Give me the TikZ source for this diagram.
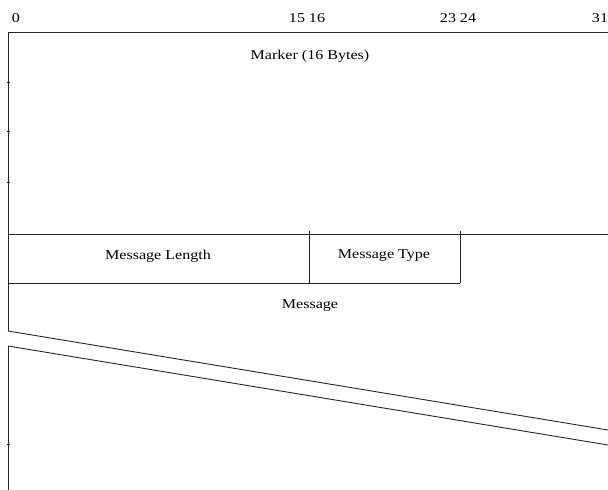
\documentclass[tikz,border=0pt]{standalone}
\usepackage{fontspec}
\usepackage{graphicx}
\setmainfont{Liberation Serif}
\newcommand{\wide}[1]{\scalebox{1.19}[1]{#1}}
\begin{document}
\begin{tikzpicture}[x=1pt,y=-1pt,
  lbl/.style={inner sep=0pt,font=\fontsize{13.5}{16}\selectfont},
  ln/.style={line width=0.9pt,black!85}]
\useasboundingbox (0,0) rectangle (608,490);
% bit labels
\node[lbl] (b0) at (16,18) {\wide{0}};
\node[lbl] (b15) at (297,18) {\wide{15}};
\node[lbl] (b16) at (317,18) {\wide{16}};
\node[lbl] (b23) at (448,18) {\wide{23}};
\node[lbl] (b24) at (468,18) {\wide{24}};
\node[lbl] (b31) at (600,18) {\wide{31}};
% coordinates
\coordinate (tl) at (8,32);
\coordinate (tr) at (608,32);
\coordinate (ml) at (8,234);
\coordinate (mr) at (608,234);
\coordinate (d1t) at (309,231);
\coordinate (d1b) at (309,283);
\coordinate (d2t) at (460,231);
\coordinate (d2b) at (460,283);
\coordinate (bl) at (8,283);
\coordinate (ba) at (8,331);
\coordinate (bb) at (8,346);
\coordinate (bra) at (608,430);
\coordinate (brb) at (608,445);
\coordinate (bot) at (8,490);
% lines
\draw[ln] (tl) -- (tr);
\draw[ln] (tl) -- (ba);
\draw[ln] (bb) -- (bot);
\draw[ln] (ml) -- (mr);
\draw[ln] (bl) -- (d2b);
\draw[ln] (d1t) -- (d1b);
\draw[ln] (d2t) -- (d2b);
\draw[ln] (ba) -- (bra);
\draw[ln] (bb) -- (brb);
% ticks
\foreach \t in {82,131,182,444} \draw[ln] (7,\t) -- (10,\t);
% texts
\node[lbl] (marker) at (310,56) {\wide{Marker (16 Bytes)}};
\node[lbl] (mlen) at (158,256) {\wide{Message Length}};
\node[lbl] (mtype) at (384,256) {\wide{Message Type}};
\node[lbl] (msg) at (310,306) {\wide{Message}};
\end{tikzpicture}
\end{document}
